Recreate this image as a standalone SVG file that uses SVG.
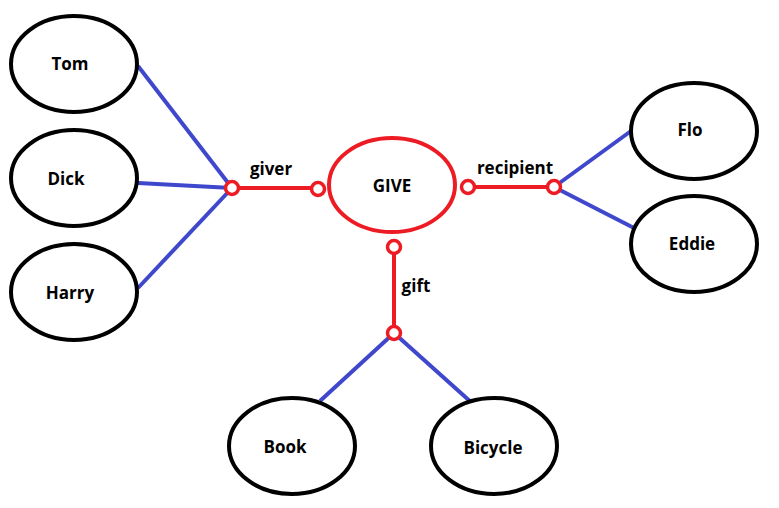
<svg xmlns="http://www.w3.org/2000/svg" width="779" height="508" viewBox="0 0 779 508">
<style>
.node ellipse{fill:#fff;stroke:#000;stroke-width:4}
.rel ellipse{fill:#fff;stroke:#ed1c24;stroke-width:4}
text{font-family:"Open Sans","DejaVu Sans",sans-serif;font-weight:bold;font-size:17px;text-anchor:middle;fill:#000}
.blue{stroke:#3f48cc;stroke-width:4;fill:none}
.red{stroke:#ed1c24;stroke-width:4;fill:none}
.port{fill:#fff;stroke:#ed1c24;stroke-width:3.5}
</style>
<rect width="779" height="508" fill="#fff"/>
<g id="connectors">
<line class="blue" x1="138" y1="66" x2="232" y2="188"/>
<line class="blue" x1="138" y1="183" x2="232" y2="188"/>
<line class="blue" x1="138" y1="288" x2="232" y2="188"/>
<line class="red" x1="232" y1="188" x2="318" y2="188"/>
<line class="red" x1="468" y1="187" x2="554" y2="187"/>
<line class="blue" x1="554" y1="187" x2="631" y2="131"/>
<line class="blue" x1="554" y1="187" x2="634" y2="228"/>
<line class="red" x1="394" y1="247" x2="394" y2="333"/>
<line class="blue" x1="394" y1="333" x2="320" y2="401"/>
<line class="blue" x1="394" y1="333" x2="472" y2="403"/>
<circle class="port" cx="232" cy="188" r="6.5"/>
<circle class="port" cx="318" cy="189" r="6.5"/>
<circle class="port" cx="468" cy="187" r="6.5"/>
<circle class="port" cx="554" cy="187" r="6.5"/>
<circle class="port" cx="394" cy="247" r="6.5"/>
<circle class="port" cx="394" cy="333" r="6.5"/>
<text x="271" y="175">giver</text>
<text x="515" y="174">recipient</text>
<text x="416" y="292">gift</text>
</g>
<g id="tom" class="node"><ellipse cx="74" cy="64" rx="63" ry="48"/><text x="70" y="70">Tom</text></g>
<g id="dick" class="node"><ellipse cx="74" cy="178" rx="63" ry="48"/><text x="66" y="185">Dick</text></g>
<g id="harry" class="node"><ellipse cx="74" cy="292" rx="63" ry="48"/><text x="70" y="299">Harry</text></g>
<g id="give" class="rel"><ellipse cx="392" cy="185" rx="63" ry="47"/><text x="392" y="192">GIVE</text></g>
<g id="flo" class="node"><ellipse cx="694" cy="131" rx="63" ry="48"/><text x="690" y="136">Flo</text></g>
<g id="eddie" class="node"><ellipse cx="694" cy="244" rx="63" ry="48"/><text x="692" y="250">Eddie</text></g>
<g id="book" class="node"><ellipse cx="292" cy="446" rx="63" ry="48"/><text x="285" y="453">Book</text></g>
<g id="bicycle" class="node"><ellipse cx="494" cy="446" rx="63" ry="48"/><text x="493" y="454">Bicycle</text></g>
</svg>
